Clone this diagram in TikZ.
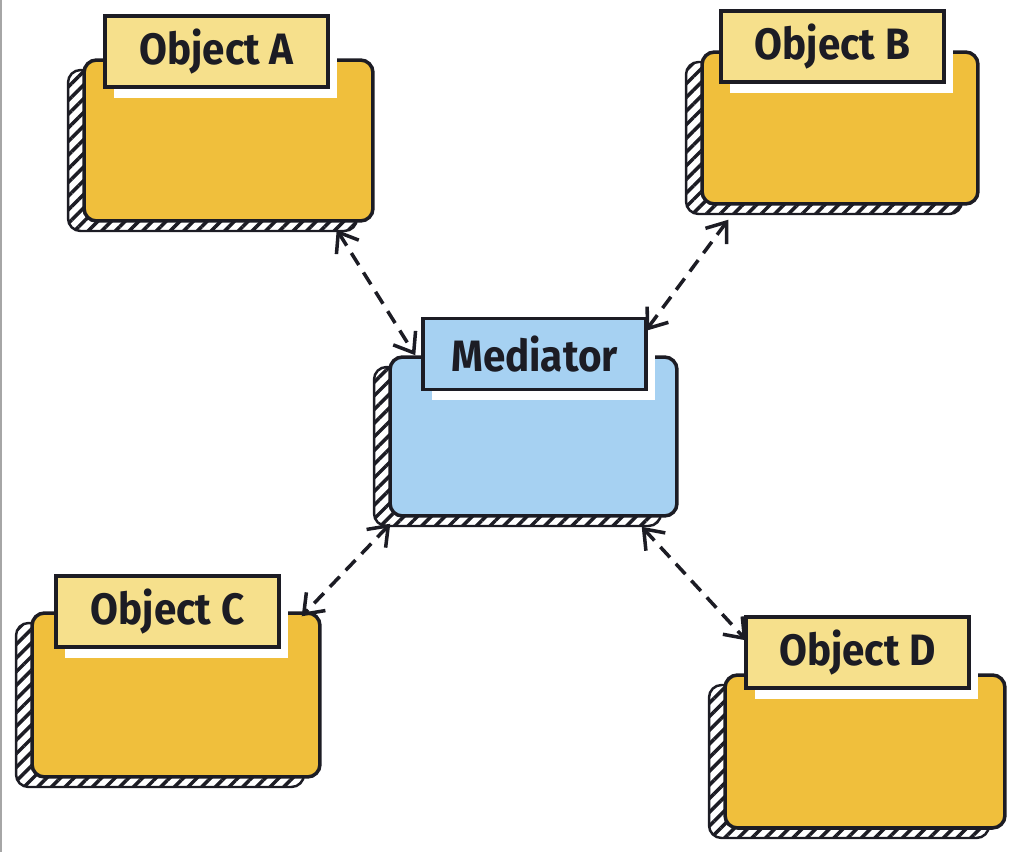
\documentclass[tikz,border=0pt]{standalone}
\usepackage{fontspec}
\newfontfamily\tagfont{Fira Sans}[FakeStretch=0.92]
\usetikzlibrary{positioning}
\usetikzlibrary{shadows}
\usetikzlibrary{patterns.meta}
\usetikzlibrary{arrows.meta}
\definecolor{objfill}{HTML}{F0BF3C}
\definecolor{objtag}{HTML}{F6E08C}
\definecolor{medfill}{HTML}{A6D1F2}
\definecolor{ink}{HTML}{1C1C24}

\begin{document}
\begin{tikzpicture}[x=0.02cm,y=-0.02cm,
			hatch/.style={draw=ink,line width=1.4pt,
				pattern={Lines[angle=45,distance=5.5pt,line width=2pt]},pattern color=ink},
			body/.style={draw=ink,line width=2pt,rounded corners=0.25cm,fill=#1,
				general shadow={shadow xshift=-0.32cm,shadow yshift=-0.2cm,hatch}},
			tag/.style={draw=ink,line width=1.8pt,fill=#1,text=ink,
				minimum width=4.46cm,minimum height=1.42cm,
				font=\tagfont\bfseries\fontsize{25}{30}\selectfont,
				general shadow={shadow xshift=0.18cm,shadow yshift=-0.22cm,fill=white,draw=none}},
			link/.style={draw=ink,line width=2pt,dash pattern=on 8pt off 5pt,
				{Straight Barb[length=10pt,width=15pt]}-{Straight Barb[length=10pt,width=15pt]}}]
		\useasboundingbox (0,0) rectangle (1018,852);
		\draw[black!35,line width=1pt] (1,0) -- (1,852);
		% the five boxes
		\node[body=objfill,minimum width=5.78cm,minimum height=3.22cm] (bodyA) at (228.5,140.5) {};
		\node[body=objfill,minimum width=5.52cm,minimum height=3.04cm] (bodyB) at (840,128) {};
		\node[body=medfill,minimum width=5.74cm,minimum height=3.18cm] (bodyM) at (533.5,436.5) {};
		\node[body=objfill,minimum width=5.76cm,minimum height=3.28cm] (bodyC) at (176,695) {};
		\node[body=objfill,minimum width=5.6cm,minimum height=3.06cm] (bodyD) at (865,751.5) {};
		% their tags
		\node[tag=objtag] (tagA) at (216.5,51.5) {Object A};
		\node[tag=objtag] (tagB) at (832.5,46.5) {Object B};
		\node[tag=medfill] (tagM) at (534.5,354) {Mediator};
		\node[tag=objtag] (tagC) at (167.5,611.5) {Object C};
		\node[tag=objtag] (tagD) at (857.5,652.5) {Object D};
		% links to the mediator
		\draw[link] ([shift={(-38,7)}]bodyA.south east) -- ([shift={(27,0)}]bodyM.north west);
		\draw[link] ([shift={(28,14)}]bodyB.south west) -- ([shift={(-2,14)}]tagM.north east);
		\draw[link] ([shift={(2,6)}]bodyM.south west) -- ([shift={(-20,5)}]bodyC.north east);
		\draw[link] ([shift={(-37,9)}]bodyM.south east) -- ([shift={(2,25)}]tagD.north west);
\end{tikzpicture}
\end{document}
